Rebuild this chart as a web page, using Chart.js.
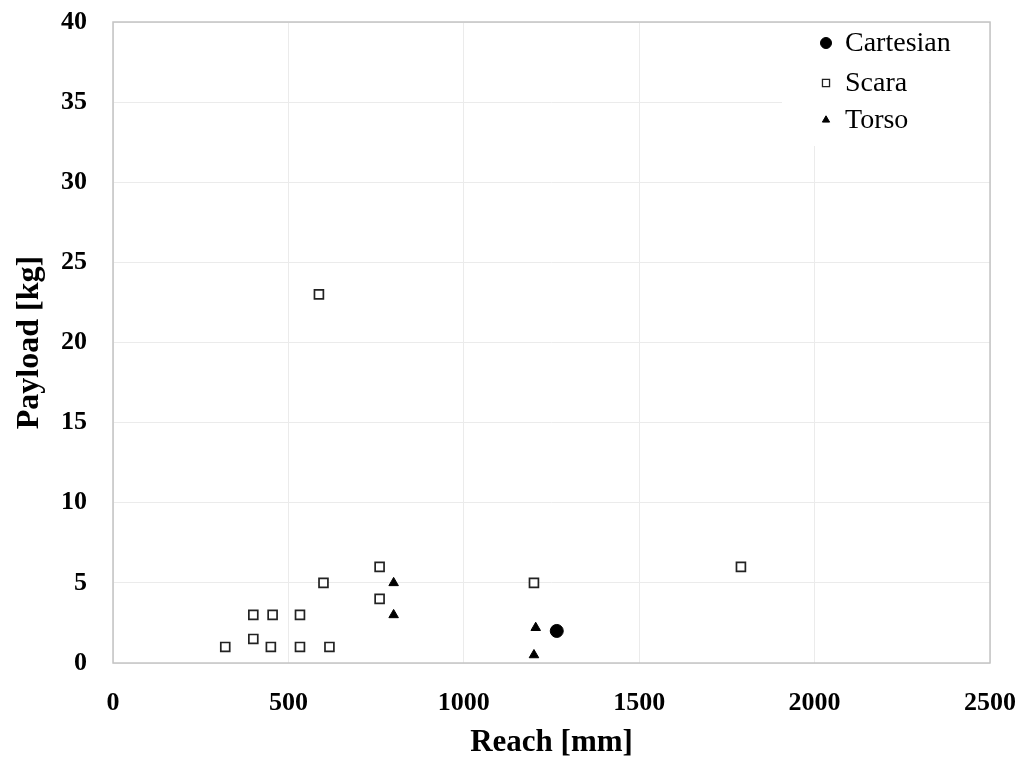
<!DOCTYPE html>
<html>
<head>
<meta charset="utf-8">
<script src="https://cdn.jsdelivr.net/npm/chart.js@4/dist/chart.umd.min.js"></script>
<style>
  html, body { margin: 0; padding: 0; background: #ffffff; }
  canvas { display: block; }
</style>
</head>
<body>
<canvas id="robot-chart" width="1032" height="762"></canvas>
<script>
const SERIES_LABELS = ['Cartesian', 'Scara', 'Torso'];

const cartesianReach = [1265];
const cartesianPayload = [2];

const scaraReach = [320, 400, 400, 455, 450, 533, 533, 617, 600, 760, 760, 587, 1200, 1790];
const scaraPayload = [1, 1.5, 3, 3, 1, 3, 1, 1, 5, 6, 4, 23, 5, 6];

const torsoReach = [800, 800, 1205, 1200];
const torsoPayload = [5, 3, 2.2, 0.5];

const X_TICKS = [0, 500, 1000, 1500, 2000, 2500];
const Y_TICKS = [0, 5, 10, 15, 20, 25, 30, 35, 40];

const SERIF = "'Liberation Serif', 'DejaVu Serif', serif";

function toPoints(xs, ys) {
  return xs.map((x, i) => ({ x, y: ys[i] }));
}

// frame around the plot area plus a boxed legend in the top-right corner
const frameAndLegend = {
  id: 'frameAndLegend',
  beforeDatasetsDraw(chart) {
    const { ctx, chartArea: a } = chart;
    ctx.save();
    ctx.fillStyle = '#ffffff';
    ctx.fillRect(a.right - 208, a.top + 1, 207, 123);
    ctx.strokeStyle = '#c4c4c4';
    ctx.lineWidth = 1.5;
    ctx.strokeRect(a.left, a.top, a.right - a.left, a.bottom - a.top);
    ctx.restore();
  },
  afterDatasetsDraw(chart) {
    const { ctx, chartArea: a } = chart;
    const markerX = a.right - 164;
    const textX = a.right - 145;
    const rows = [a.top + 21, a.top + 61, a.top + 98];
    const markers = [
      { pointStyle: 'circle', radius: 5.5, fill: '#000000', border: '#000000', width: 1 },
      { pointStyle: 'rect', radius: 5, fill: '#ffffff', border: '#222222', width: 1.3 },
      { pointStyle: 'triangle', radius: 4.2, fill: '#000000', border: '#000000', width: 1 },
    ];
    ctx.save();
    SERIES_LABELS.forEach((label, i) => {
      const m = markers[i];
      ctx.fillStyle = m.fill;
      ctx.strokeStyle = m.border;
      ctx.lineWidth = m.width;
      Chart.helpers.drawPoint(ctx, { pointStyle: m.pointStyle, radius: m.radius, rotation: 0, borderWidth: m.width }, markerX, rows[i]);
      ctx.fillStyle = '#000000';
      ctx.font = `28px ${SERIF}`;
      ctx.textBaseline = 'middle';
      ctx.textAlign = 'left';
      ctx.fillText(label, textX, rows[i] + 1);
    });
    ctx.restore();
  },
};

new Chart(document.getElementById('robot-chart'), {
  type: 'scatter',
  data: {
    datasets: [
      {
        label: SERIES_LABELS[0],
        data: toPoints(cartesianReach, cartesianPayload),
        pointStyle: 'circle',
        pointRadius: 6.5,
        backgroundColor: '#000000',
        borderColor: '#000000',
        borderWidth: 1,
      },
      {
        label: SERIES_LABELS[1],
        data: toPoints(scaraReach, scaraPayload),
        pointStyle: 'rect',
        pointRadius: 6.3,
        backgroundColor: '#ffffff',
        borderColor: '#222222',
        borderWidth: 1.7,
      },
      {
        label: SERIES_LABELS[2],
        data: toPoints(torsoReach, torsoPayload),
        pointStyle: 'triangle',
        pointRadius: 5.5,
        backgroundColor: '#000000',
        borderColor: '#000000',
        borderWidth: 1,
      },
    ],
  },
  options: {
    responsive: false,
    animation: false,
    devicePixelRatio: 1,
    layout: {
      padding: { top: 22, right: 42, left: 0, bottom: 0 },
    },
    plugins: {
      legend: { display: false },
      tooltip: { enabled: false },
    },
    scales: {
      x: {
        type: 'linear',
        min: 0,
        max: 2500,
        afterBuildTicks: (scale) => { scale.ticks = X_TICKS.map((value) => ({ value })); },
        afterFit: (scale) => {
          scale.height = 99;
          scale.paddingLeft = 0;
          scale.paddingRight = 0;
        },
        grid: { color: '#ebebeb', lineWidth: 1, drawTicks: false },
        border: { display: false },
        ticks: {
          padding: 25,
          color: '#000000',
          font: { family: SERIF, size: 26, weight: 'bold' },
          callback: (value) => String(value),
        },
        title: {
          display: true,
          text: 'Reach [mm]',
          color: '#000000',
          padding: 0,
          font: { family: SERIF, size: 31, weight: 'bold' },
        },
      },
      y: {
        type: 'linear',
        min: 0,
        max: 40,
        afterBuildTicks: (scale) => { scale.ticks = Y_TICKS.map((value) => ({ value })); },
        afterFit: (scale) => {
          scale.width = 113;
          scale.paddingTop = 0;
          scale.paddingBottom = 0;
        },
        grid: { color: '#ebebeb', lineWidth: 1, drawTicks: false },
        border: { display: false },
        ticks: {
          padding: 26,
          color: '#000000',
          font: { family: SERIF, size: 26, weight: 'bold' },
          callback: (value) => String(value),
        },
        title: {
          display: true,
          text: 'Payload [kg]',
          color: '#000000',
          padding: { top: 11, bottom: 0 },
          font: { family: SERIF, size: 32, weight: 'bold' },
        },
      },
    },
  },
  plugins: [frameAndLegend],
});
</script>
</body>
</html>
